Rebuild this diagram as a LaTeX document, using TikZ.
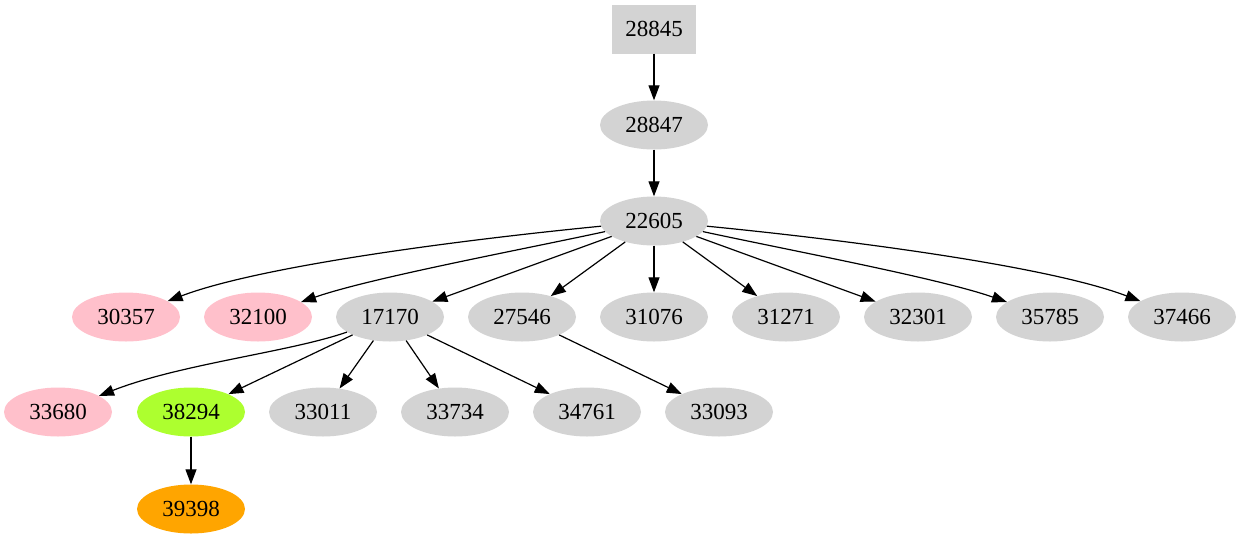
\documentclass[tikz,border=0pt]{standalone}
\usepackage{fontspec}
\setmainfont{Liberation Serif}
\usetikzlibrary{shapes.geometric,arrows.meta}
\definecolor{lgray}{HTML}{D3D3D3}
\definecolor{gpink}{HTML}{FFC0CB}
\definecolor{ggreen}{HTML}{ADFF2F}
\definecolor{gorange}{HTML}{FFA500}
\tikzset{
  el/.style={ellipse, fill=#1, minimum width=108pt, minimum height=49pt, inner sep=0pt, font=\fontsize{23}{27}\selectfont},
  el/.default=lgray,
  bx/.style={rectangle, fill=lgray, minimum width=84pt, minimum height=49pt, inner sep=0pt, font=\fontsize{23}{27}\selectfont},
  edge/.style={line width=1.2pt, -{Triangle[length=15pt,width=11pt]}}
}
\begin{document}
\begin{tikzpicture}[x=1pt,y=-1pt]
\useasboundingbox (0,0) rectangle (1241,539);
\node[bx] (n28845) at (654,29) {28845};
\node[el] (n28847) at (654,125) {28847};
\node[el] (n22605) at (654,221) {22605};
\node[el=gpink] (n30357) at (126,317) {30357};
\node[el=gpink] (n32100) at (258,317) {32100};
\node[el] (n17170) at (390,317) {17170};
\node[el] (n27546) at (522,317) {27546};
\node[el] (n31076) at (654,317) {31076};
\node[el] (n31271) at (786,317) {31271};
\node[el] (n32301) at (918,317) {32301};
\node[el] (n35785) at (1050,317) {35785};
\node[el] (n37466) at (1182,317) {37466};
\node[el=gpink] (n33680) at (58,412) {33680};
\node[el=ggreen] (n38294) at (191,412) {38294};
\node[el] (n33011) at (323,412) {33011};
\node[el] (n33734) at (455,412) {33734};
\node[el] (n34761) at (587,412) {34761};
\node[el] (n33093) at (719,412) {33093};
\node[el=gorange] (n39398) at (191,509) {39398};

\draw[edge] (n28845) -- (n28847);
\draw[edge] (n28847) -- (n22605);
\draw[edge] (n22605) .. controls (460,240) and (260,266) .. (n30357);
\draw[edge] (n22605) .. controls (520,250) and (370,278) .. (n32100);
\draw[edge] (n22605) -- (n17170);
\draw[edge] (n22605) -- (n27546);
\draw[edge] (n22605) -- (n31076);
\draw[edge] (n22605) -- (n31271);
\draw[edge] (n22605) -- (n32301);
\draw[edge] (n22605) .. controls (788,250) and (938,278) .. (n35785);
\draw[edge] (n22605) .. controls (848,240) and (1048,266) .. (n37466);
\draw[edge] (n17170) .. controls (290,352) and (180,364) .. (n33680);
\draw[edge] (n17170) -- (n38294);
\draw[edge] (n17170) -- (n33011);
\draw[edge] (n17170) -- (n33734);
\draw[edge] (n17170) -- (n34761);
\draw[edge] (n27546) -- (n33093);
\draw[edge] (n38294) -- (n39398);
\end{tikzpicture}
\end{document}
